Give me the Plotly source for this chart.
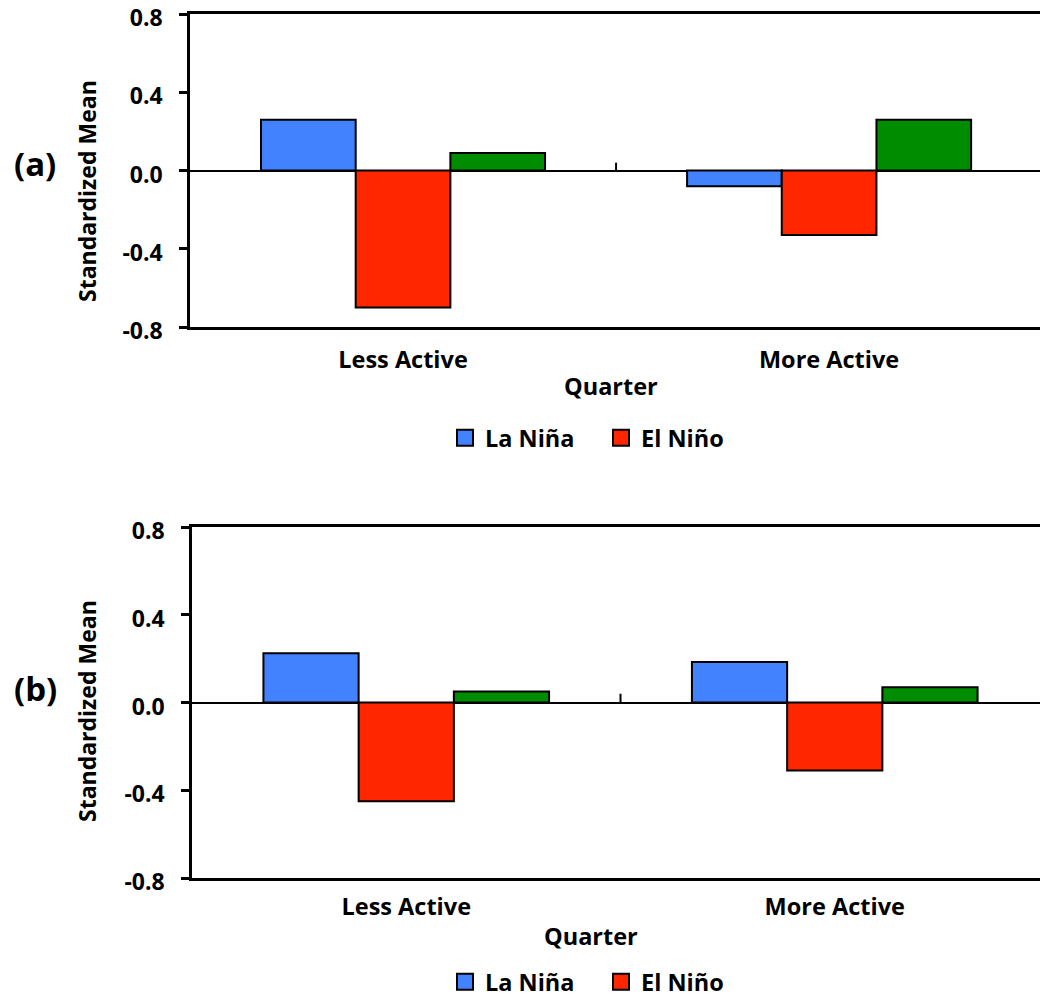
import plotly.graph_objects as go

categories = ["Less Active", "More Active"]
series_names = ["La Niña", "El Niño", "Other"]
colors = ["#4282FF", "#FF2600", "#008C00"]

panel_a = {
    "La Niña": [0.26, -0.08],
    "El Niño": [-0.70, -0.33],
    "Other": [0.09, 0.26],
}
panel_b = {
    "La Niña": [0.225, 0.185],
    "El Niño": [-0.45, -0.31],
    "Other": [0.05, 0.07],
}
y_ticks = [-0.8, -0.4, 0.0, 0.4, 0.8]
y_ticktext = ["-0.8", "-0.4", "0.0", "0.4", "0.8"]

FONT = "Open Sans"
W, H = 1040, 997

def py(px):
    return 1 - px / H

def bold(size):
    return dict(family=FONT, size=size, color="black", weight="bold")

fig = go.Figure()

legend_layout = {}
legend_x = {"La Niña": 445, "El Niño": 601}
panels = [(panel_a, "x", "y", ["legend", "legend2"], 438),
          (panel_b, "x2", "y2", ["legend3", "legend4"], 982)]
for data, xa, ya, legs, ly in panels:
    for name, col in zip(series_names, colors):
        fig.add_trace(go.Bar(
            x=categories, y=data[name], name=name,
            marker=dict(color=col, line=dict(color="black", width=2)),
            xaxis=xa, yaxis=ya, showlegend=False,
        ))
    # legend entries (square swatches with black outline)
    for name, col, leg in zip(series_names[:2], colors[:2], legs):
        fig.add_trace(go.Scatter(
            x=[None], y=[None], mode="markers", name=name,
            marker=dict(symbol="square", size=16, color=col, line=dict(color="black", width=2)),
            xaxis=xa, yaxis=ya, legend=leg, showlegend=True,
        ))
        legend_layout[leg] = dict(
            x=legend_x[name] / W, y=py(ly), xanchor="left", yanchor="middle",
            orientation="h", font=bold(23.5), itemsizing="trace",
            bgcolor="rgba(0,0,0,0)",
        )

common_x = dict(
    type="category", showline=True, linecolor="black", linewidth=2.5,
    mirror=True, ticks="", showgrid=False, zeroline=False, tickfont=bold(23.5),
)
common_y = dict(
    range=[-0.8, 0.8], tickvals=y_ticks, ticktext=y_ticktext, showline=True,
    linecolor="black", linewidth=2.5, ticks="outside", ticklen=8, tickwidth=2.5,
    tickcolor="black", showgrid=False, zeroline=True, zerolinecolor="black",
    zerolinewidth=2, tickfont=bold(23), ticklabelstandoff=12,
    ticklabeloverflow="allow", ticklabelshift=4,
)

fig.update_layout(
    width=W, height=H,
    margin=dict(l=0, r=0, t=0, b=0, autoexpand=False),
    paper_bgcolor="white", plot_bgcolor="white",
    barmode="group", bargap=1/3, bargroupgap=0,
    xaxis=dict(domain=[190 / W, 1], anchor="y", range=[-0.5, 1.495], ticklabelstandoff=10, **common_x),
    yaxis=dict(domain=[py(327), py(14)], anchor="x", **common_y),
    xaxis2=dict(domain=[192 / W, 1], anchor="y2", range=[-0.5, 1.479], ticklabelstandoff=6, **common_x),
    yaxis2=dict(domain=[py(878), py(527)], anchor="x2", **common_y),
    showlegend=True,
    **legend_layout,
)

anns = [
    dict(text="(a)", x=35 / W, y=py(164), font=bold(33)),
    dict(text="(b)", x=35 / W, y=py(688), font=bold(33)),
    dict(text="Standardized Mean", x=87 / W, y=py(191), textangle=-90, font=bold(23)),
    dict(text="Standardized Mean", x=87 / W, y=py(711), textangle=-90, font=bold(23)),
    dict(text="Quarter", x=611 / W, y=py(386), font=bold(23.5)),
    dict(text="Quarter", x=591 / W, y=py(936), font=bold(23.5)),
]
for a in anns:
    fig.add_annotation(xref="paper", yref="paper", showarrow=False, xanchor="center", yanchor="middle", **a)

# small category-boundary ticks on the zero line
for xr, yr in [("x", "y"), ("x2", "y2")]:
    fig.add_shape(type="line", xref=xr, yref=yr, x0=0.5, x1=0.5, y0=0, y1=0.04,
                  line=dict(color="black", width=2))

fig.write_html("out.html", config={"displayModeBar": False},
               post_script="document.body.style.margin='0';document.body.style.overflow='hidden';")
